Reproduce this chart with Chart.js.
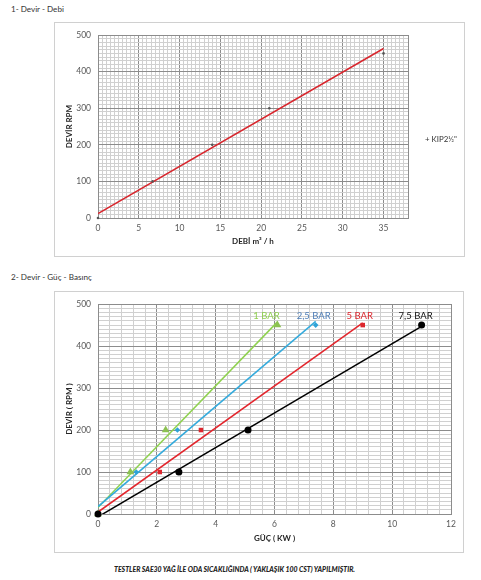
<!DOCTYPE html>
<html><head><meta charset="utf-8">
<script src="https://cdn.jsdelivr.net/npm/chart.js@4.4.1/dist/chart.umd.min.js"></script>
<style>
html,body{margin:0;padding:0;background:#fff;}
body{width:481px;height:580px;position:relative;overflow:hidden;font-family:Lato,"Open Sans",sans-serif;}
.box{position:absolute;border:1px solid #d0d0d0;box-sizing:border-box;}
canvas{position:absolute;}
.t{position:absolute;white-space:nowrap;color:#333;line-height:1;}
</style></head><body>
<div class="t" id="title1" style="left:11px;top:5px;font-size:9px;">1- Devir - Debi</div>
<div class="box" style="left:54px;top:22px;width:411px;height:235px;"></div>
<canvas id="c1" width="409" height="233" style="left:55px;top:23px;width:409px;height:233px"></canvas>
<div class="t" id="legend1" style="left:425px;top:136px;font-size:8px;"></div>

<div class="t" id="title2" style="left:11px;top:273px;font-size:9px;">2- Devir - Güç - Basınç</div>
<div class="box" style="left:54px;top:291px;width:410px;height:262px;"></div>
<canvas id="c2" width="408" height="260" style="left:55px;top:292px;width:408px;height:260px"></canvas>
<div class="t" id="footer" style="left:114px;top:566px;font-size:7px;font-weight:900;font-style:italic;color:#222;">TESTLER SAE30 YAĞ İLE ODA SICAKLIĞINDA ( YAKLAŞIK 100 CST) YAPILMIŞTIR.</div>

<script>
// ---------- Data: chart 1 (Devir - Debi) ----------
const debi = [0, 6.7, 14, 21, 35];           // m³/h
const devirDebi = [0, 100, 200, 300, 450];   // RPM
const series1Name = 'KIP2½"';

// ---------- Data: chart 2 (Devir - Güç - Basınç) ----------
const devirGuc = [0, 100, 200, 450];         // RPM
const guc1Bar = [0, 1.1, 2.3, 6.1];          // kW
const guc25Bar = [0, 1.3, 2.7, 7.4];
const guc5Bar = [0, 2.1, 3.5, 9.0];
const guc75Bar = [0, 2.75, 5.1, 11.0];
const barNames = ['1 BAR', '2,5 BAR', '5 BAR', '7,5 BAR'];

const FONT = 'Lato, "Open Sans", sans-serif';
const isMult = (v, m) => Math.abs(v / m - Math.round(v / m)) < 1e-6;
const gridColor = major => ctx => (ctx.tick && isMult(ctx.tick.value, major)) ? '#8c8c8c' : '#d0d0d0';
const pts = (xs, ys) => xs.map((x, i) => ({x, y: ys[i]}));
function trend(xs, ys) {
  const n = xs.length;
  const mx = xs.reduce((a, b) => a + b, 0) / n, my = ys.reduce((a, b) => a + b, 0) / n;
  let sxy = 0, sxx = 0;
  for (let i = 0; i < n; i++) { sxy += (xs[i] - mx) * (ys[i] - my); sxx += (xs[i] - mx) ** 2; }
  const b = sxy / sxx, a = my - b * mx, x1 = Math.max(...xs);
  return [{x: 0, y: a}, {x: x1, y: a + b * x1}];
}

const areaBorder = {
  id: 'areaBorder',
  beforeDatasetsDraw(chart) {
    const {ctx, chartArea: a} = chart;
    ctx.save(); ctx.strokeStyle = '#8c8c8c'; ctx.lineWidth = 1;
    ctx.strokeRect(Math.round(a.left) + 0.5, Math.round(a.top) + 0.5, Math.round(a.right - a.left), Math.round(a.bottom - a.top));
    ctx.restore();
  }
};
const endLabels = {
  id: 'endLabels',
  afterDatasetsDraw(chart) {
    const ctx = chart.ctx;
    chart.data.datasets.forEach((ds, i) => {
      if (!ds.endLabel) return;
      const meta = chart.getDatasetMeta(i);
      const p = meta.data[meta.data.length - 1];
      ctx.save();
      ctx.font = '9.5px ' + FONT; ctx.fillStyle = ds.endLabelColor;
      ctx.textAlign = 'center'; ctx.textBaseline = 'alphabetic';
      ctx.fillText(ds.endLabel, p.x + (ds.endLabelDx || 0), p.y - 6);
      ctx.restore();
    });
  }
};

function axis(min, max, step, major, titleText, horiz, fitSize, titlePad) {
  return {
    type: 'linear', min, max,
    afterFit(s) { if (horiz) s.height = fitSize; else s.width = fitSize; },
    ticks: {stepSize: step, autoSkip: false, maxRotation: 0, padding: horiz ? 5 : 7, color: '#595959',
      font: {family: FONT, size: 8.5}, callback: v => isMult(v, major) ? String(v) : ''},
    grid: {color: gridColor(major), drawTicks: false, lineWidth: 1},
    border: {display: true, color: '#8c8c8c'},
    title: {display: true, text: titleText, color: '#262626', font: {family: FONT, size: 8, weight: 'bold'},
      padding: horiz ? {top: 0, bottom: titlePad} : {top: titlePad, bottom: 0}}
  };
}

// Chart 1
new Chart(document.getElementById('c1'), {
  type: 'scatter',
  data: {datasets: [
    {label: series1Name, data: pts(debi, devirDebi), pointRadius: 1.3, pointBackgroundColor: '#555', pointBorderWidth: 0, showLine: false, clip: false},
    {label: 'trend', type: 'line', data: trend(debi, devirDebi), borderColor: '#d8262d', borderWidth: 1.5, pointRadius: 0, fill: false}
  ]},
  options: {
    responsive: false, animation: false,
    layout: {padding: {top: 9, right: 56, left: 0, bottom: 0}},
    plugins: {legend: {display: false}, tooltip: {enabled: false}},
    scales: {
      x: axis(0, 38, 0.5, 5, 'DEBİ m³ / h', true, 38, 10),
      y: axis(0, 500, 10, 100, 'DEVİR RPM', false, 43, 10)
    }
  },
  plugins: [areaBorder]
});
document.getElementById('legend1').textContent = '+ ' + series1Name;

// Chart 2
const markerSets = [
  {x: guc75Bar, name: barNames[3], color: '#000000', lbl: '#111111', style: 'circle', r: 3.5, dx: -6},
  {x: guc5Bar, name: barNames[2], color: '#dc262d', lbl: '#dc262d', style: 'rect', r: 3.2, dx: -3},
  {x: guc25Bar, name: barNames[1], color: '#2ea3d8', lbl: '#4f7fb8', style: 'rectRot', r: 2.8, dx: -2},
  {x: guc1Bar, name: barNames[0], color: '#8cc152', lbl: '#8fcf4f', style: 'triangle', r: 4.5, dx: -11}
];
const lineColors = {'7,5 BAR': '#000000', '5 BAR': '#e3262d', '2,5 BAR': '#34aadc', '1 BAR': '#8fd14f'};
const ds2 = [];
markerSets.forEach(m => ds2.push({label: m.name, data: pts(m.x, devirGuc), showLine: false, clip: false,
  pointStyle: m.style, pointRadius: m.r, pointBackgroundColor: m.color, pointBorderColor: m.color, pointBorderWidth: 0,
  endLabel: m.name, endLabelColor: m.lbl, endLabelDx: m.dx}));
markerSets.forEach(m => ds2.push({label: m.name + ' trend', type: 'line', data: trend(m.x, devirGuc),
  borderColor: lineColors[m.name], borderWidth: 1.5, pointRadius: 0, fill: false}));

new Chart(document.getElementById('c2'), {
  type: 'scatter',
  data: {datasets: ds2},
  options: {
    responsive: false, animation: false,
    layout: {padding: {top: 7, right: 12, left: 0, bottom: 0}},
    plugins: {legend: {display: false}, tooltip: {enabled: false}},
    scales: {
      x: axis(0, 12, 0.4, 2, 'GÜÇ ( KW )', true, 38, 9),
      y: axis(0, 500, 10, 100, 'DEVİR ( RPM )', false, 43, 10)
    }
  },
  plugins: [areaBorder, endLabels]
});

// fit HTML texts to measured widths
function fitFont(id, w) {
  const el = document.getElementById(id);
  const r = el.getBoundingClientRect();
  const fs = parseFloat(getComputedStyle(el).fontSize);
  el.style.fontSize = (fs * w / r.width) + 'px';
}
function fitScale(id, w) {
  const el = document.getElementById(id);
  const r = el.getBoundingClientRect();
  el.style.transformOrigin = 'left center';
  el.style.transform = 'scaleX(' + (w / r.width) + ')';
}
fitFont('title1', 53);
fitFont('title2', 81);
fitFont('legend1', 32);
fitScale('footer', 241);
</script>
</body></html>
